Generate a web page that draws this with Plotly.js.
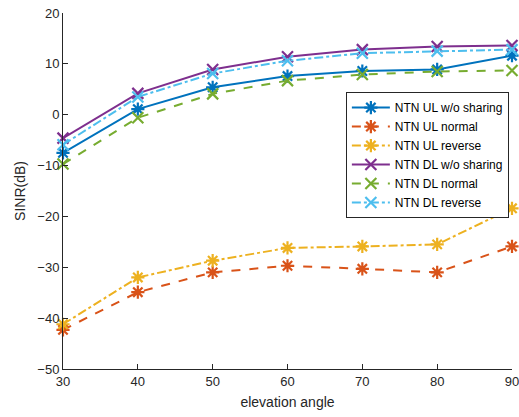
<!DOCTYPE html>
<html>
<head>
<meta charset="utf-8">
<script src="https://cdn.plot.ly/plotly-3.0.1.min.js"></script>
<style>
  html, body { margin: 0; padding: 0; background: #fff; }
  #chart { width: 519px; height: 417px; }
</style>
</head>
<body>
<div id="chart"></div>
<script>
// Elevation angles (degrees)
const elevation = [30, 40, 50, 60, 70, 80, 90];
const elevationTicks = [30, 40, 50, 60, 70, 80, 90];
const sinrTicks = [-50, -40, -30, -20, -10, 0, 10, 20];

// SINR (dB) per scenario
const ulWithoutSharing = [-7.5, 1.1, 5.4, 7.6, 8.6, 8.9, 11.6];
const ulNormal         = [-42.3, -34.9, -31.0, -29.7, -30.3, -31.0, -25.9];
const ulReverse        = [-41.2, -32.0, -28.7, -26.2, -25.9, -25.5, -18.4];
const dlWithoutSharing = [-4.6, 4.2, 8.9, 11.4, 12.8, 13.4, 13.6];
const dlNormal         = [-9.7, -0.6, 4.1, 6.7, 7.9, 8.5, 8.7];
const dlReverse        = [-5.9, 3.5, 8.1, 10.6, 12.1, 12.5, 12.8];

const seriesNames = [
  'NTN UL w/o sharing', 'NTN UL normal', 'NTN UL reverse',
  'NTN DL w/o sharing', 'NTN DL normal', 'NTN DL reverse'
];

const ink = '#262626';
const fontFamily = 'Liberation Sans, Arial, sans-serif';

function series(name, y, color, dash, symbol) {
  return {
    type: 'scatter',
    mode: 'lines+markers',
    name: name,
    x: elevation,
    y: y,
    cliponaxis: false,
    line: { color: color, width: 2, dash: dash },
    marker: {
      symbol: symbol,
      size: 11,
      color: color,
      line: { color: color, width: 2.2 }
    }
  };
}

const traces = [
  series(seriesNames[0], ulWithoutSharing, '#0072BD', 'solid',   'asterisk-open'),
  series(seriesNames[1], ulNormal,         '#D95319', 'dash',    'asterisk-open'),
  series(seriesNames[2], ulReverse,        '#EDB120', 'dashdot', 'asterisk-open'),
  series(seriesNames[3], dlWithoutSharing, '#7E2F8E', 'solid',   'x-thin-open'),
  series(seriesNames[4], dlNormal,         '#77AC30', 'dash',    'x-thin-open'),
  series(seriesNames[5], dlReverse,        '#4DBEEE', 'dashdot', 'x-thin-open')
];

const axisCommon = {
  showline: true,
  linecolor: ink,
  linewidth: 1,
  mirror: false,
  showgrid: false,
  zeroline: false,
  ticks: 'inside',
  ticklen: 5,
  tickwidth: 1,
  tickcolor: ink,
  ticklabeloverflow: 'allow',
  tickfont: { family: fontFamily, size: 13, color: ink }
};

const layout = {
  width: 519,
  height: 417,
  margin: { l: 63, r: 7, t: 13, b: 48 },
  paper_bgcolor: '#fff',
  plot_bgcolor: '#fff',
  showlegend: true,
  xaxis: Object.assign({}, axisCommon, {
    range: [30, 90],
    tickvals: elevationTicks,
    title: { text: 'elevation angle', standoff: 9,
             font: { family: fontFamily, size: 14, color: ink } }
  }),
  yaxis: Object.assign({}, axisCommon, {
    range: [-50, 20],
    tickvals: sinrTicks,
    title: { text: 'SINR(dB)', standoff: 8,
             font: { family: fontFamily, size: 14, color: ink } }
  }),
  legend: {
    x: 0.63, y: 0.778, xanchor: 'left', yanchor: 'top',
    bgcolor: '#fff',
    bordercolor: ink,
    borderwidth: 1,
    tracegroupgap: 0,
    itemwidth: 38,
    font: { family: fontFamily, size: 12, color: '#000' }
  }
};

Plotly.newPlot('chart', traces, layout, { staticPlot: true, displayModeBar: false });
</script>
</body>
</html>
